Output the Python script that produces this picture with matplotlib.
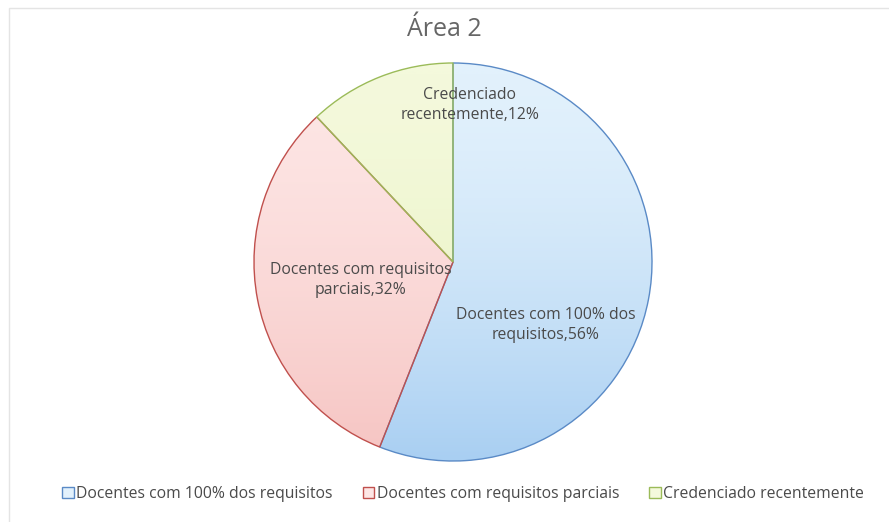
import numpy as np
import matplotlib
matplotlib.use("Agg")
import matplotlib.pyplot as plt
from matplotlib.colors import LinearSegmentedColormap
from matplotlib.patches import Rectangle

# Data ---------------------------------------------------------------------------------------------
categories = ["Docentes com 100% dos requisitos", "Docentes com requisitos parciais", "Credenciado recentemente"]
values     = [56, 32, 12]
labelText  = ["Docentes com 100% dos\nrequisitos,56%", "Docentes com requisitos\nparciais,32%", "Credenciado\nrecentemente,12%"]
title      = "Área 2"

# Styles -------------------------------------------------------------------------------------------
edgeColors = ["#5a8ac6", "#c0504d", "#9bbb59"]
topColors  = ["#e2f1fc", "#fde6e5", "#f4f9dc"]
botColors  = ["#a9cff2", "#f6c4c2", "#e3efb4"]
labelPos   = [(0.465, -0.318), (-0.465, -0.09), (0.085, 0.79)]   # in pie radius units

plt.rcParams['font.family'] = ['Open Sans', 'DejaVu Sans']

fig = plt.figure(figsize=(8.89, 5.22), dpi=100)

# faint chart border (top and left edges visible)
fig.add_artist(Rectangle((9/889, -0.02), 1.1, 1 - 8/522 + 0.02, transform=fig.transFigure,
                         fill=False, edgecolor="#e4e4e4", lw=1))

ax = fig.add_axes([253/889, 60/522, 400/889, 400/522])
ax.set_aspect('equal')
ax.axis('off')

wedges, _ = ax.pie(values, startangle=90, counterclock=False, radius=1,
                   colors=topColors, wedgeprops=dict(edgecolor="none"))

# vertical gradient fill for each slice, light at top, darker towards the bottom
gradient = (np.linspace(0, 1, 256) ** 1.6).reshape(-1, 1)
for w, top, bot in zip(wedges, topColors, botColors):
    cmap = LinearSegmentedColormap.from_list("g", [top, bot])
    im = ax.imshow(gradient, cmap=cmap, extent=(-1, 1, -1, 1), origin='upper',
                   aspect='auto', zorder=2, vmin=0, vmax=1)
    im.set_clip_path(w)
for w, ec in zip(wedges, edgeColors):
    w.set_facecolor("none")
    w.set_edgecolor(ec)
    w.set_linewidth(1.0)
    w.set_zorder(3)
ax.set_xlim(-1.005, 1.005)
ax.set_ylim(-1.005, 1.005)

for txt, (x, y) in zip(labelText, labelPos):
    ax.text(x, y, txt, ha='center', va='center', fontsize=11.3, color="#4a4a4a",
            linespacing=1.35, zorder=4)

fig.text(0.5, 1 - 30/522, title, ha='center', va='center', fontsize=18, color="#666666")

# legend
handles = [Rectangle((0, 0), 1, 1, facecolor=c, edgecolor=e, lw=1)
           for c, e in zip(topColors, edgeColors)]
fig.legend(handles, categories, loc='center', bbox_to_anchor=(463/889, 1 - 494/522), ncol=3,
           frameon=False, fontsize=11.3, handlelength=0.75, handleheight=0.75,
           handletextpad=0.15, columnspacing=1.9, labelcolor="#4a4a4a")

fig.savefig("out.png", dpi=100, facecolor="white")
